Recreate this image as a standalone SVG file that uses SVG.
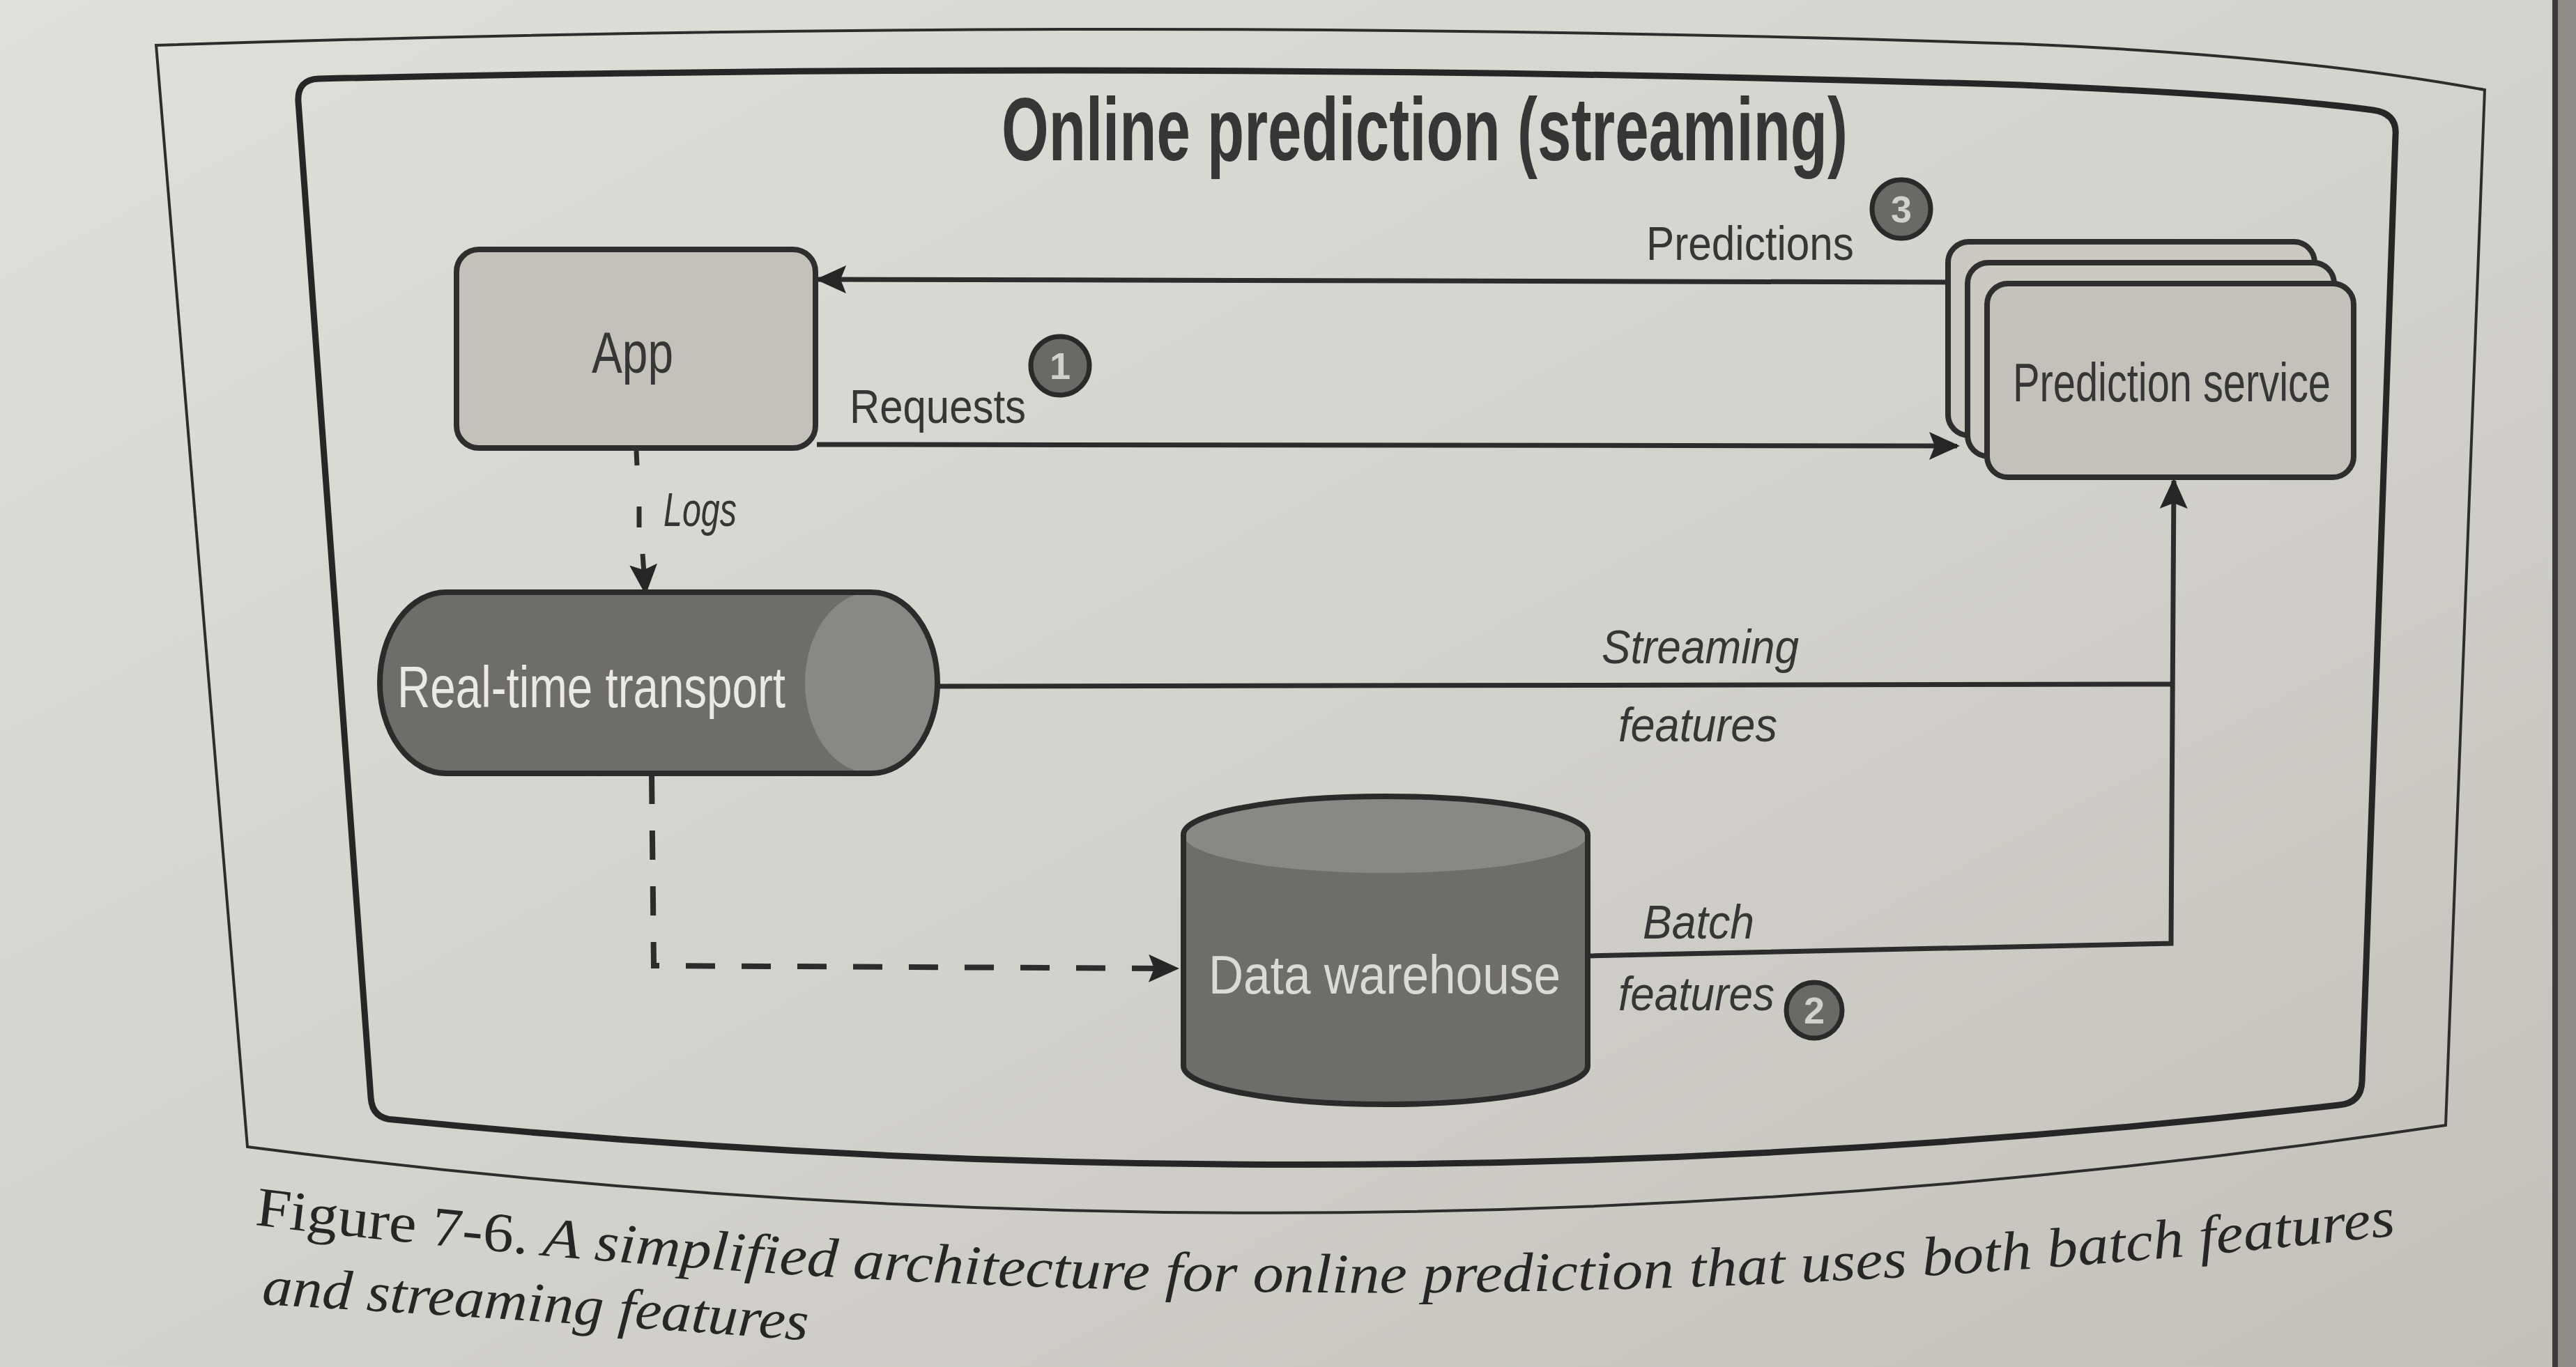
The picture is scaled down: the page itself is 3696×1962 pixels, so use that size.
<svg xmlns="http://www.w3.org/2000/svg" width="3696" height="1962" viewBox="0 0 3696 1962">
<defs>
<linearGradient id="paper" x1="0" y1="0" x2="1" y2="1">
<stop offset="0" stop-color="#e1dfda"/>
<stop offset="0.55" stop-color="#d3d1cb"/>
<stop offset="1" stop-color="#c3c0ba"/>
</linearGradient>
<marker id="arrow" viewBox="0 0 44 40" markerUnits="userSpaceOnUse" markerWidth="44" markerHeight="40" refX="40" refY="20" orient="auto">
<path d="M0,0 L44,20 L0,40 L8,20 Z" fill="#262626"/>
</marker>
<path id="cap1" d="M365,1758 Q1900,1945 3446,1772" fill="none"/>
<path id="cap2" d="M375,1872 Q780,1895 1162,1924" fill="none"/>
</defs>
<style>
.frame-outer{fill:none;stroke:#2d2d2d;stroke-width:4;stroke-linejoin:miter}
.frame-inner{fill:none;stroke:#262626;stroke-width:9;stroke-linejoin:round}
.box{fill:#c4c1bb;stroke:#2e2e2e;stroke-width:8}
.box-back{fill:#ccc9c3;stroke:#2e2e2e;stroke-width:8}
.dark-body{fill:#6f6d6a;stroke:none}
.dark-face{fill:#8a8884;stroke:none}
.dark-outline{fill:none;stroke:#2b2b2b;stroke-width:8}
.conn{fill:none;stroke:#2c2c2c;stroke-width:7}
.dash{stroke-dasharray:42 38;stroke-width:8}
.t{font-family:"Liberation Sans",Arial,sans-serif;fill:#363636}
.it{font-style:italic}
.light{fill:#ebe9e5}
.badge circle{fill:#6b6966;stroke:#2a2a2a;stroke-width:7}
.badge text{font-family:"Liberation Sans",Arial,sans-serif;font-weight:bold;font-size:54px;fill:#d2d0cb;text-anchor:middle}
.cap{font-family:"Liberation Serif","Times New Roman",serif;font-size:80px;fill:#262626;font-style:italic}
</style>

<rect x="0" y="0" width="3696" height="1962" fill="url(#paper)"/>
<rect x="3664" y="0" width="32" height="1962" fill="#8f8c87"/>
<line x1="3666" y1="0" x2="3666" y2="1962" stroke="#3c3c3c" stroke-width="8"/>

<path class="frame-outer" d="M224,65 Q1600,20 2900,63 Q3300,80 3565,129 L3509,1615 Q1932,1850 355,1646 Z"/>
<path class="frame-inner" d="M428,146 Q426,114 458,113 Q1700,85 2900,122 Q3250,137 3405,158 Q3440,163 3437,195 L3389,1552 Q3388,1583 3356,1586 Q1960,1746 565,1607 Q534,1606 532,1575 Z"/>

<text class="t" x="1437" y="230" font-size="128" font-weight="bold" textLength="1214" lengthAdjust="spacingAndGlyphs">Online prediction (streaming)</text>

<g id="connectors">
<path class="conn" d="M2795,405 L1174,401" marker-end="url(#arrow)"/>
<path class="conn" d="M1172,638 L2808,640" marker-end="url(#arrow)"/>
<path class="conn" d="M913,647 L914,668"/>
<path class="conn" d="M917,727 L917,757"/>
<path class="conn" d="M922,795 L926,850" marker-end="url(#arrow)"/>
<path class="conn" d="M1345,985 L3116,982"/>
<path class="conn" d="M2278,1372 L3115,1354 L3119,690" marker-end="url(#arrow)"/>
<path class="conn dash" d="M935,1112 L938,1386 L1688,1390" marker-end="url(#arrow)"/>
</g>

<g id="app">
<rect class="box" x="655" y="358" width="515" height="285" rx="32"/>
<text class="t" x="849" y="535" font-size="84" textLength="117" lengthAdjust="spacingAndGlyphs">App</text>
</g>

<g id="prediction-service">
<rect class="box-back" x="2795" y="347" width="526" height="278" rx="30"/>
<rect class="box-back" x="2823" y="377" width="526" height="278" rx="30"/>
<rect class="box" x="2851" y="407" width="526" height="278" rx="30"/>
<text class="t" x="2888" y="576" font-size="78" textLength="456" lengthAdjust="spacingAndGlyphs">Prediction service</text>
</g>

<g id="real-time-transport">
<path class="dark-body" d="M640,850 L1250,850 A95,130 0 0 1 1250,1110 L640,1110 A95,130 0 0 1 640,850 Z"/>
<ellipse class="dark-face" cx="1250" cy="980" rx="95" ry="130"/>
<path class="dark-outline" d="M640,850 L1250,850 A95,130 0 0 1 1250,1110 L640,1110 A95,130 0 0 1 640,850 Z"/>
<text class="t light" x="570" y="1015" font-size="84" textLength="557" lengthAdjust="spacingAndGlyphs">Real-time transport</text>
</g>

<g id="data-warehouse">
<path class="dark-body" d="M1698,1198 L1698,1530 A290,55 0 0 0 2278,1530 L2278,1198 A290,55 0 0 0 1698,1198 Z"/>
<ellipse class="dark-face" cx="1988" cy="1198" rx="290" ry="55"/>
<path class="dark-outline" d="M1698,1198 L1698,1530 A290,55 0 0 0 2278,1530 L2278,1198 A290,55 0 0 0 1698,1198 Z"/>
<text class="t" x="1734" y="1426" font-size="78" textLength="505" lengthAdjust="spacingAndGlyphs" style="fill:#dcdad6">Data warehouse</text>
</g>

<g id="labels">
<text class="t" x="2362" y="373" font-size="68" textLength="298" lengthAdjust="spacingAndGlyphs">Predictions</text>
<text class="t" x="1219" y="607" font-size="68" textLength="253" lengthAdjust="spacingAndGlyphs">Requests</text>
<text class="t it" x="952" y="755" font-size="68" textLength="105" lengthAdjust="spacingAndGlyphs">Logs</text>
<text class="t it" x="2298" y="952" font-size="68" textLength="283" lengthAdjust="spacingAndGlyphs">Streaming</text>
<text class="t it" x="2322" y="1064" font-size="68" textLength="228" lengthAdjust="spacingAndGlyphs">features</text>
<text class="t it" x="2357" y="1347" font-size="68" textLength="160" lengthAdjust="spacingAndGlyphs">Batch</text>
<text class="t it" x="2322" y="1450" font-size="68" textLength="224" lengthAdjust="spacingAndGlyphs">features</text>
</g>

<g id="badge-1" class="badge"><circle cx="1521" cy="525" r="42"/><text x="1521" y="544">1</text></g>
<g id="badge-2" class="badge"><circle cx="2603" cy="1450" r="40"/><text x="2603" y="1469">2</text></g>
<g id="badge-3" class="badge"><circle cx="2728" cy="300" r="42"/><text x="2728" y="319">3</text></g>

<g id="caption">
<text class="cap"><textPath href="#cap1" textLength="3080" lengthAdjust="spacingAndGlyphs"><tspan font-style="normal">Figure 7-6.</tspan> A simplified architecture for online prediction that uses both batch features</textPath></text>
<text class="cap"><textPath href="#cap2" textLength="785" lengthAdjust="spacingAndGlyphs">and streaming features</textPath></text>
</g>
</svg>
